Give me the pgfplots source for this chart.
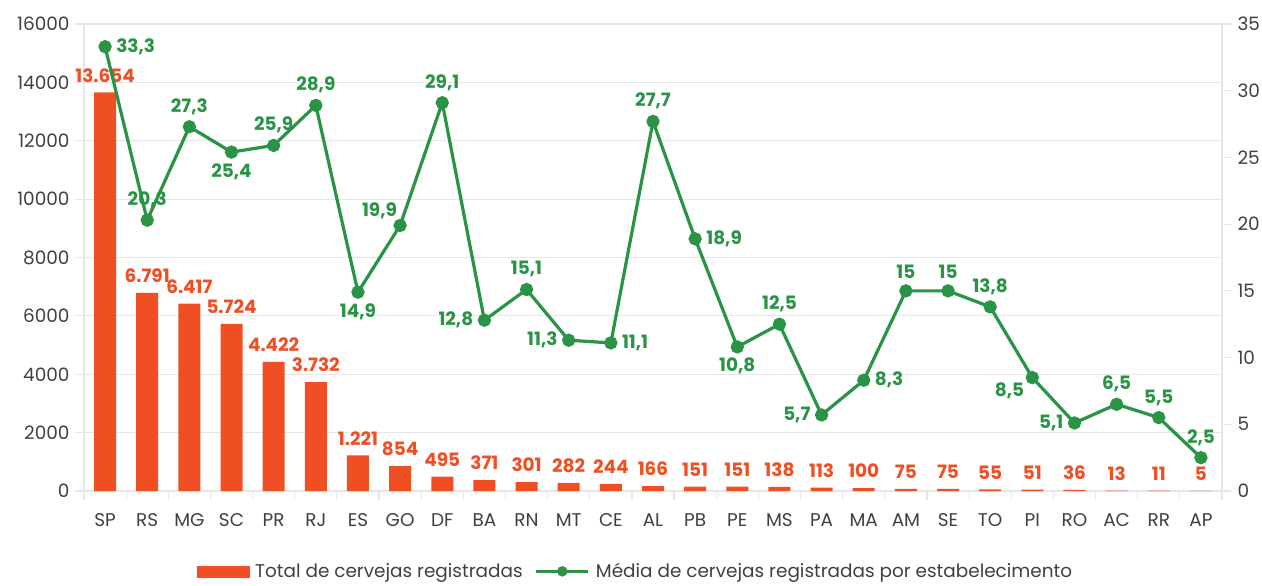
\documentclass[border=0pt]{standalone}
\usepackage{pgfplots}
\pgfplotsset{compat=1.18}
\usepackage{pgfplotstable}
\usepackage{fontspec}
\setmainfont{Poppins}
\definecolor{barc}{HTML}{F04E23}
\definecolor{linec}{HTML}{2A9446}
\definecolor{gridc}{HTML}{E6E6E6}
\definecolor{tickc}{HTML}{404040}

\pgfplotstableread{
x y lab
0 13654 13.654
1 6791 6.791
2 6417 6.417
3 5724 5.724
4 4422 4.422
5 3732 3.732
6 1221 1.221
7 854 854
8 495 495
9 371 371
10 301 301
11 282 282
12 244 244
13 166 166
14 151 151
15 151 151
16 138 138
17 113 113
18 100 100
19 75 75
20 75 75
21 55 55
22 51 51
23 36 36
24 13 13
25 11 11
26 5 5
}\bars

\pgfplotstableread{
x y lab
0 33.3 33,3
1 20.3 20,3
2 27.3 27,3
3 25.4 25,4
4 25.9 25,9
5 28.9 28,9
6 14.9 14,9
7 19.9 19,9
8 29.1 29,1
9 12.8 12,8
10 15.1 15,1
11 11.3 11,3
12 11.1 11,1
13 27.7 27,7
14 18.9 18,9
15 10.8 10,8
16 12.5 12,5
17 5.7 5,7
18 8.3 8,3
19 15 15
20 15 15
21 13.8 13,8
22 8.5 8,5
23 5.1 5,1
24 6.5 6,5
25 5.5 5,5
26 2.5 2,5
}\media

\newcommand{\lblfont}{\bfseries\fontsize{18.5}{21}\selectfont}
\newcommand{\tkfont}{\fontsize{18.5}{21}\selectfont}
\pgfplotsset{
  lbl/.style n args={3}{forget plot, draw=none, mark=none, point meta=explicit symbolic, nodes near coords,
    nodes near coords style={font=\lblfont, text=linec, anchor=#1, inner xsep=#2, inner ysep=#3}},
}

\begin{document}
\begin{tikzpicture}
\begin{axis}[
  name=ax,
  scale only axis,
  width=1138bp, height=467bp,
  xmin=-0.5, xmax=26.5,
  ymin=0, ymax=16000,
  ytick={0,2000,...,16000},
  xtick={0,...,26},
  xticklabels={SP,RS,MG,SC,PR,RJ,ES,GO,DF,BA,RN,MT,CE,AL,PB,PE,MS,PA,MA,AM,SE,TO,PI,RO,AC,RR,AP},
  minor xtick={-0.5,0.5,...,26.5},
  major x tick style={draw=none},
  minor x tick style={draw=gridc, line width=1.2bp},
  tick align=outside,
  major tick length=9bp,
  minor tick length=9bp,
  y tick style={draw=gridc, line width=1.2bp},
  axis x line*=bottom,
  axis y line*=left,
  axis line style={draw=gridc, line width=1.2bp},
  ymajorgrids,
  grid style={draw=gridc, line width=1.2bp},
  scaled y ticks=false,
  /pgf/number format/assume math mode=true,
  /pgf/number format/1000 sep={},
  tick label style={font=\tkfont, text=tickc},
  yticklabel style={xshift=-2bp},
  xticklabel style={yshift=-10bp},
  ybar, bar width=22bp, bar shift=0pt,
  clip=false,
]
\addplot[fill=barc, draw=none,
  point meta=explicit symbolic,
  nodes near coords,
  nodes near coords style={font=\lblfont, text=barc, anchor=south, inner sep=10bp}
] table[x=x, y=y, meta=lab] {\bars};
\end{axis}
\begin{axis}[
  scale only axis,
  width=1138bp, height=467bp,
  xmin=-0.5, xmax=26.5,
  ymin=0, ymax=35,
  ytick={0,5,...,35},
  axis x line=none,
  axis y line*=right,
  axis line style={draw=gridc, line width=1.2bp},
  tick align=outside,
  major tick length=9bp,
  y tick style={draw=gridc, line width=1.2bp},
  /pgf/number format/assume math mode=true,
  tick label style={font=\tkfont, text=tickc},
  yticklabel style={xshift=3bp},
  clip=false,
  legend style={at={(0.4846,-0.172)}, anchor=center, draw=none, fill=none,
    legend columns=2, font=\tkfont, text=tickc,
    /tikz/every odd column/.append style={column sep=4bp},
    /tikz/every even column/.append style={column sep=10bp}},
]
\addlegendimage{legend image code/.code={\fill[barc] (0bp,-5.5bp) rectangle (52bp,5.5bp);}}
\addlegendentry{Total de cervejas registradas}
\addlegendimage{legend image code/.code={\draw[linec, line width=3.2bp] (0bp,0bp) -- (52bp,0bp); \fill[linec] (26bp,0bp) circle (5bp);}}
\addlegendentry{Média de cervejas registradas por estabelecimento}
\addplot[forget plot, linec, line width=3.2bp, mark=*, mark size=5bp, mark options={fill=linec, draw=linec}]
  table[x=x, y=y] {\media};
\addplot[lbl={south}{9bp}{12bp}] table[meta=lab] {
x y lab
1 20.3 20,3
2 27.3 27,3
4 25.9 25,9
5 28.9 28,9
8 29.1 29,1
10 15.1 15,1
13 27.7 27,7
16 12.5 12,5
19 15 15
20 15 15
21 13.8 13,8
24 6.5 6,5
25 5.5 5,5
26 2.5 2,5
};
\addplot[lbl={north}{9bp}{11bp}] table[meta=lab] {
x y lab
3 25.4 25,4
6 14.9 14,9
15 10.8 10,8
};
\addplot[lbl={west}{11bp}{6bp}] table[meta=lab] {
x y lab
0 33.3 33,3
12 11.1 11,1
14 18.9 18,9
18 8.3 8,3
};
\addplot[lbl={east}{11bp}{6bp}] table[meta=lab] {
x y lab
9 12.8 12,8
11 11.3 11,3
17 5.7 5,7
23 5.1 5,1
};
\addplot[lbl={south east}{3bp}{6bp}] table[meta=lab] {
x y lab
7 19.9 19,9
};
\addplot[lbl={north east}{8bp}{5bp}] table[meta=lab] {
x y lab
22 8.5 8,5
};
\end{axis}
\pgfresetboundingbox
\path (ax.south west) ++(-84bp,-94bp) coordinate (bl);
\path (ax.north east) ++(40bp,24bp) coordinate (tr);
\path[use as bounding box] (bl) rectangle (tr);
\end{tikzpicture}
\end{document}
